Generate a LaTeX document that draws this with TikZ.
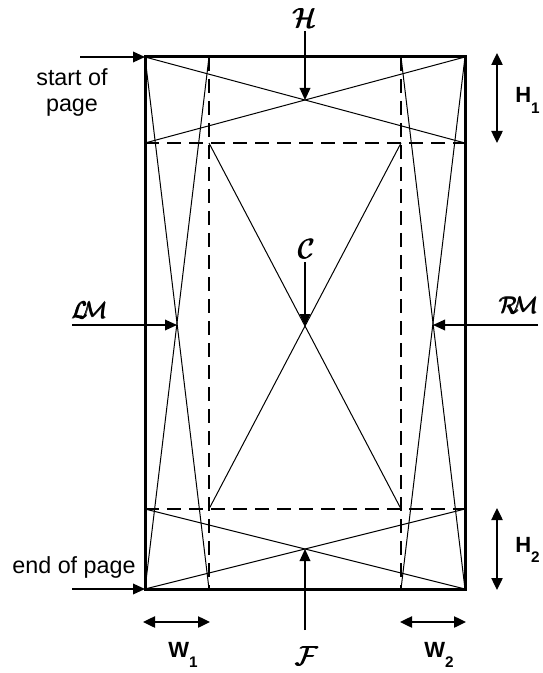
\documentclass[tikz,border=0pt]{standalone}
\usepackage{amsmath}
\usepackage{fontspec}
\setmainfont{Liberation Sans}[BoldFont={Liberation Sans Bold}]
\usetikzlibrary{arrows.meta}

\newcommand{\dimlbl}[2]{#1\raisebox{-8pt}{\fontsize{11.5}{13}\selectfont #2}}
\newcommand{\callbl}[1]{$\pmb{\mathcal{#1}}$}

\begin{document}
\begin{tikzpicture}[
  x=0.75pt, y=-0.75pt,
  every node/.style={font=\fontsize{17.5}{20}\selectfont, inner sep=0pt},
  page/.style={draw, line width=2.25pt},
  guide/.style={draw, line width=1.4pt, dash pattern=on 10.5pt off 6pt},
  diag/.style={draw, line width=0.75pt},
  pointer/.style={-{Triangle[length=9pt,width=8pt]}, line width=1pt},
  span/.style={{Triangle[length=9pt,width=8.5pt]}-{Triangle[length=9pt,width=8.5pt]}, line width=1pt},
  dimtext/.style={font=\bfseries\fontsize{16.5}{19}\selectfont, anchor=base west},
  caltext/.style={font=\fontsize{20}{23}\selectfont}
]
\useasboundingbox (0,0) rectangle (542,673);

% page corners and margin lines
\coordinate (tl) at (145,57);
\coordinate (tr) at (465,57);
\coordinate (bl) at (145,589);
\coordinate (br) at (465,589);
\coordinate (w1t) at (209,57);
\coordinate (w1b) at (209,589);
\coordinate (w2t) at (401,57);
\coordinate (w2b) at (401,589);
\coordinate (h1l) at (145,143);
\coordinate (h1r) at (465,143);
\coordinate (h2l) at (145,509);
\coordinate (h2r) at (465,509);
\coordinate (c1) at (209,143);
\coordinate (c2) at (401,143);
\coordinate (c3) at (209,509);
\coordinate (c4) at (401,509);

% crossing points
\coordinate (hx) at (305,100);
\coordinate (cx) at (305,326);
\coordinate (fx) at (305,549);
\coordinate (lmx) at (177,325);
\coordinate (rmx) at (433,325);

% diagonals
\draw[diag] (tl) -- (h1r);
\draw[diag] (tr) -- (h1l);
\draw[diag] (h2l) -- (br);
\draw[diag] (h2r) -- (bl);
\draw[diag] (c1) -- (c4);
\draw[diag] (c2) -- (c3);
\draw[diag] (tl) -- (w1b);
\draw[diag] (w1t) -- (bl);
\draw[diag] (w2t) -- (br);
\draw[diag] (tr) -- (w2b);

% dashed guides
\draw[guide] (w1t) -- (w1b);
\draw[guide] (w2t) -- (w2b);
\draw[guide] (h1l) -- (h1r);
\draw[guide] (h2l) -- (h2r);

% page outline
\draw[page] (tl) rectangle (br);

% labels
\node[align=center, anchor=base] (start) at (72,112) {start of\\page};
\node[anchor=base] (end) at (74,573) {end of page};
\node[caltext] (lblH) at (305,18) {\callbl{H}};
\node[caltext] (lblC) at (307,249) {\callbl{C}};
\node[caltext] (lblF) at (307,656) {\callbl{F}};
\node[caltext, font=\fontsize{18}{21}\selectfont] (lblLM) at (90,310) {\callbl{L}\!\!\callbl{M}};
\node[caltext, font=\fontsize{18}{21}\selectfont] (lblRM) at (519,305) {\callbl{R}\!\!\callbl{M}};
\node[dimtext] (lblH1) at (515,103) {\dimlbl{H}{1}};
\node[dimtext] (lblH2) at (515,552) {\dimlbl{H}{2}};
\node[dimtext] (lblW1) at (168,657) {\dimlbl{W}{1}};
\node[dimtext] (lblW2) at (424,657) {\dimlbl{W}{2}};

% pointers
\coordinate (ps) at (80,57);
\coordinate (pe) at (72,589);
\coordinate (ph) at (305,31);
\coordinate (pc) at (305,262);
\coordinate (pf) at (305,630);
\coordinate (plm) at (72,325);
\coordinate (prm) at (538,325);
\draw[pointer] (ps) -- (tl);
\draw[pointer] (pe) -- (bl);
\draw[pointer] (ph) -- (hx);
\draw[pointer] (pc) -- (cx);
\draw[pointer] (pf) -- (fx);
\draw[pointer] (plm) -- (lmx);
\draw[pointer] (prm) -- (rmx);

% spans
\coordinate (s1a) at (497,53);
\coordinate (s1b) at (497,143);
\coordinate (s2a) at (497,508);
\coordinate (s2b) at (497,590);
\coordinate (s3a) at (143,622);
\coordinate (s3b) at (210,622);
\coordinate (s4a) at (400,622);
\coordinate (s4b) at (466,622);
\draw[span] (s1a) -- (s1b);
\draw[span] (s2a) -- (s2b);
\draw[span] (s3a) -- (s3b);
\draw[span] (s4a) -- (s4b);
\end{tikzpicture}
\end{document}
